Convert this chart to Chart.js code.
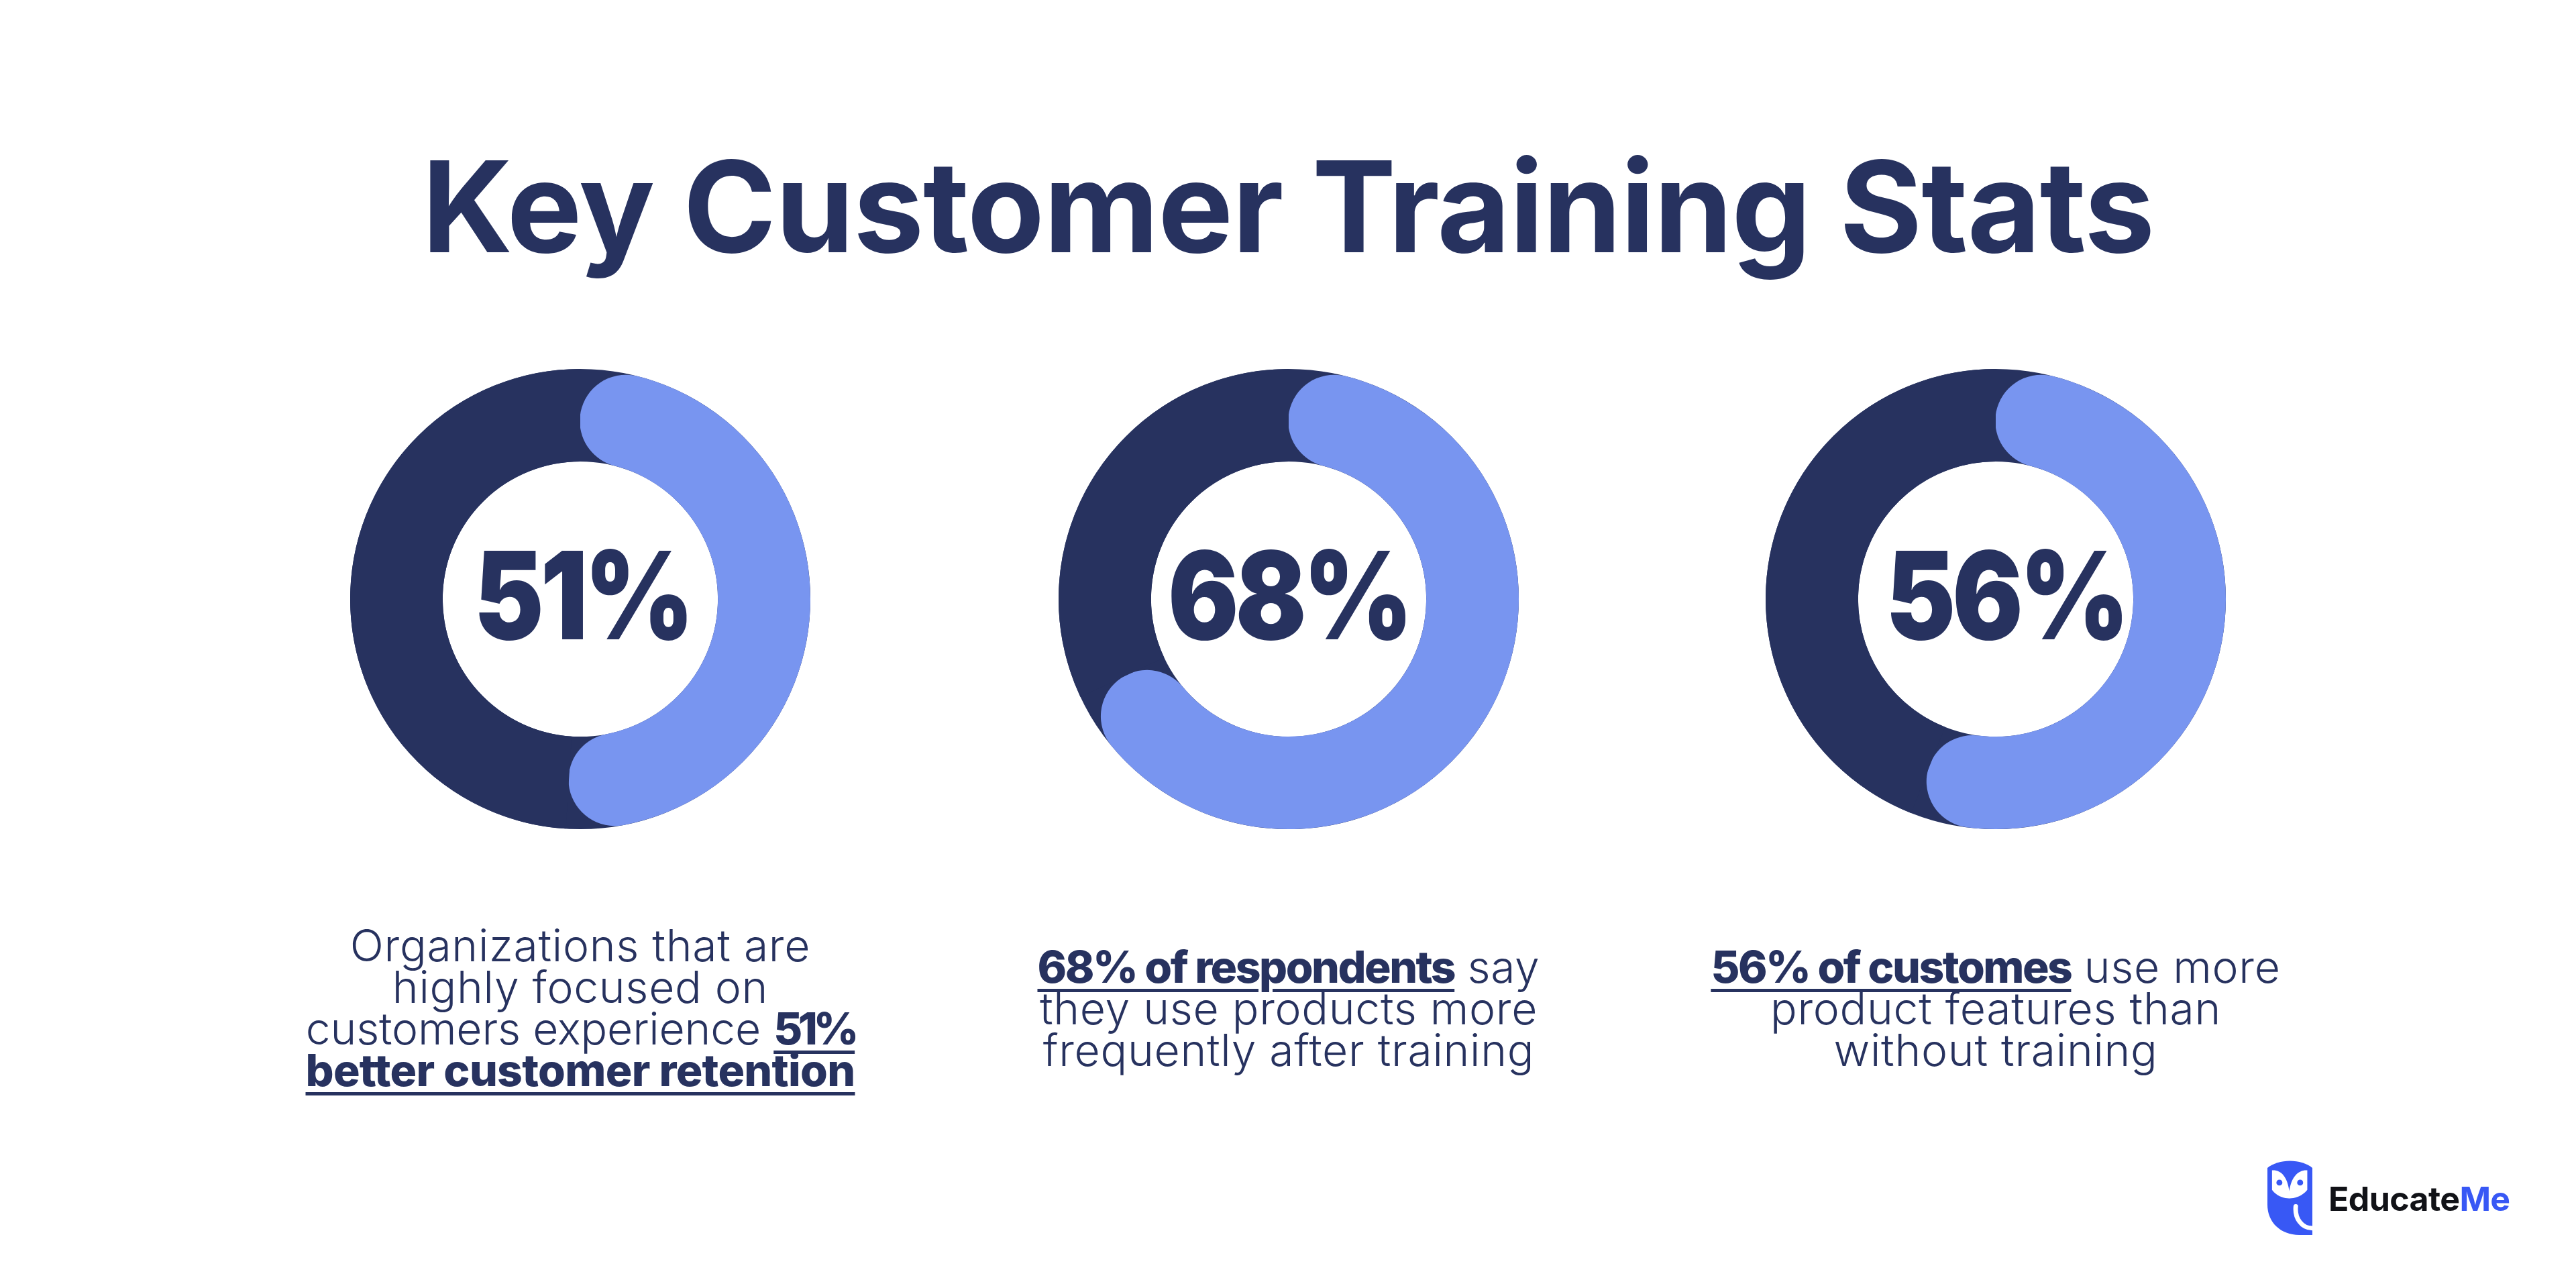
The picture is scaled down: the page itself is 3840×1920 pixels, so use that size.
<!DOCTYPE html>
<html>
<head>
<meta charset="utf-8">
<title>Key Customer Training Stats</title>
<script src="https://cdn.jsdelivr.net/npm/chart.js@4"></script>
<style>
  html, body { margin: 0; padding: 0; background: #fff; }
  #page { position: relative; width: 3840px; height: 1920px; overflow: hidden; font-family: Inter, "Noto Sans", sans-serif; color: #27325f; }
  #titulo { position: absolute; left: 0; width: 3840px; top: 198px; text-align: center; font-size: 188px; line-height: 220px; font-weight: 700; letter-spacing: -1.2px; margin: 0; }
  .dona { position: absolute; top: 550px; width: 686px; height: 686px; }
  .dona canvas { display: block; }
  .texto { position: absolute; width: 1000px; text-align: center; font-size: 66px; line-height: 62px; font-weight: 300; letter-spacing: 0.7px; }
  .texto i { font-style: normal; letter-spacing: -0.2px; }
  .texto b { font-weight: 800; letter-spacing: -0.7px; text-decoration: underline; text-decoration-thickness: 5px; text-underline-offset: 9px; }
  .texto b.p { letter-spacing: -2.5px; }
  .texto b.q { letter-spacing: -6.4px; }
  #logo { position: absolute; left: 3380px; top: 1730px; width: 67px; height: 111px; }
  #marca { position: absolute; left: 3471px; top: 1757px; font-size: 50px; line-height: 60px; font-weight: 700; color: #111217; letter-spacing: -0.6px; }
  #marca span { color: #3858f5; }
</style>
</head>
<body>
<div id="page">
  <h1 id="titulo"></h1>
  <div class="dona" style="left:522px"><canvas id="dona0" width="686" height="686"></canvas></div>
  <div class="dona" style="left:1578px"><canvas id="dona1" width="686" height="686"></canvas></div>
  <div class="dona" style="left:2632px"><canvas id="dona2" width="686" height="686"></canvas></div>
  <div class="texto" id="texto0" style="left:365px;top:1378px"></div>
  <div class="texto" id="texto1" style="left:1421px;top:1410px"></div>
  <div class="texto" id="texto2" style="left:2475px;top:1410px"></div>
  <svg id="logo" viewBox="232 145 195 330" preserveAspectRatio="none">
    <path fill="#3858f5" d="M232 178 C280 136 380 136 427 178 L427 475 L370 475 C290 475 232 420 232 340 Z"/>
    <path fill="#fff" d="M252 188 C290 185 318 215 327 280 C336 215 368 185 405 188 L405 275 C385 300 355 313 327 313 C300 313 270 300 252 275 Z"/>
    <circle cx="284" cy="243" r="13" fill="#3858f5"/>
    <circle cx="374" cy="243" r="13" fill="#3858f5"/>
    <path fill="none" stroke="#fff" stroke-width="20" stroke-linecap="round" d="M355 348 C350 400 380 445 427 445"/>
  </svg>
  <div id="marca">Educate<span>Me</span></div>
</div>
<script>
const tituloPagina = 'Key Customer Training Stats';
const porcentajes = [51, 68, 56];
const lineasTexto = [
    ['Organizations that are', 'highly focused on', '<i>customers experience</i> <b class="q">51%</b>', '<b>better customer retention</b>'],
    ['<b class="p">68% of respondents</b> say', 'they use products more', 'frequently after training'],
    ['<b class="p">56% of customes</b> use more', 'product features than', 'without training']
];
const colorOscuro = '#27325f';
const colorClaro = '#7895f0';

document.getElementById('titulo').innerText = tituloPagina;
lineasTexto.forEach((lineas, i) => {
    document.getElementById('texto' + i).innerHTML = lineas.join('<br>');
});

// anillo oscuro debajo, para que asome detras de las puntas redondeadas
const pistaOscura = {
    id: 'pistaOscura',
    beforeDatasetsDraw(chart) {
        const arco = chart.getDatasetMeta(0).data[0];
        const { ctx } = chart;
        ctx.save();
        ctx.beginPath();
        ctx.arc(arco.x, arco.y, (arco.outerRadius + arco.innerRadius) / 2, 0, Math.PI * 2);
        ctx.lineWidth = arco.outerRadius - arco.innerRadius;
        ctx.strokeStyle = colorOscuro;
        ctx.stroke();
        ctx.restore();
    }
};

// el numero del centro no esta centrado igual en las tres donas
const textoCentro = {
    id: 'textoCentro',
    afterDraw(chart, args, opts) {
        const arco = chart.getDatasetMeta(0).data[0];
        const { ctx } = chart;
        ctx.save();
        ctx.translate(arco.x + opts.dx, arco.y + 60);
        ctx.scale(0.86, 1);
        ctx.font = '900 182px Inter';
        ctx.fillStyle = colorOscuro;
        ctx.textAlign = 'center';
        ctx.textBaseline = 'alphabetic';
        ctx.letterSpacing = '-6px';
        ctx.fillText(chart.data.datasets[0].data[0] + '%', 0, 0);
        ctx.restore();
    }
};

function crearDona(id, valor, dx) {
    new Chart(document.getElementById(id), {
        type: 'doughnut',
        data: {
            labels: ['Si', 'Resto'],
            datasets: [{
                data: [valor, 100 - valor],
                backgroundColor: [colorClaro, colorOscuro],
                borderWidth: 0,
                borderRadius: ctx => ctx.dataIndex === 0 ? 200 : 0
            }]
        },
        options: {
            responsive: false,
            animation: false,
            cutout: '59.8%',
            layout: { padding: 0 },
            plugins: { legend: { display: false }, tooltip: { enabled: false }, textoCentro: { dx: dx } }
        },
        plugins: [pistaOscura, textoCentro]
    });
}

crearDona('dona0', porcentajes[0], 3);
crearDona('dona1', porcentajes[1], 0);
crearDona('dona2', porcentajes[2], 15);
</script>
</body>
</html>
